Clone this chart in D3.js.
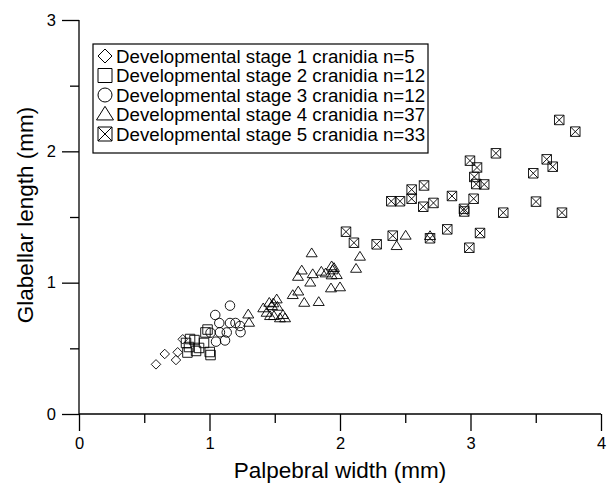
<!DOCTYPE html>
<html>
<head>
<meta charset="utf-8">
<script src="https://cdn.jsdelivr.net/npm/d3@7"></script>
<style>
  body { margin: 0; background: #fff; }
  svg { display: block; font-family: "Liberation Sans", Arial, sans-serif; }
</style>
</head>
<body>
<svg id="chart" width="608" height="486"></svg>
<script>
// values (palpebral width, glabellar length), mm
const stage1 = [[0.795,0.569],[0.657,0.457],[0.756,0.470],[0.743,0.411],[0.590,0.378]];
const stage2 = [[0.985,0.643],[0.969,0.621],[0.851,0.571],[0.885,0.563],[0.831,0.468],[0.897,0.480],
  [0.958,0.541],[1.002,0.472],[1.008,0.449],[0.843,0.510],[0.920,0.503],[0.820,0.541]];
const stage3 = [[1.157,0.825],[1.044,0.754],[1.075,0.693],[1.157,0.693],[1.199,0.693],[1.234,0.670],
  [1.008,0.619],[1.080,0.622],[1.132,0.621],[1.238,0.623],[1.050,0.551],[1.119,0.560]];
const stage4 = [[1.297,0.758],[1.303,0.695],[1.412,0.805],[1.438,0.771],[1.458,0.847],[1.489,0.843],
  [1.515,0.873],[1.520,0.817],[1.464,0.746],[1.494,0.746],[1.540,0.729],[1.579,0.729],[1.638,0.906],
  [1.680,0.933],[1.726,0.847],[1.837,0.853],[1.678,1.045],[1.707,1.093],[1.783,1.224],[1.791,1.065],
  [1.772,1.001],[1.857,1.084],[1.890,1.071],[1.936,1.125],[1.943,1.094],[1.936,1.056],[1.975,1.058],
  [1.931,0.957],[2.000,0.965],[2.123,1.106],[2.153,1.198],[2.434,1.279],[2.503,1.358],[2.690,1.355],
  [1.479,0.822],[1.563,0.754],[1.954,1.112]];
const stage5 = [[2.996,1.929],[3.050,1.877],[3.029,1.805],[3.044,1.751],[3.105,1.748],[2.644,1.740],
  [2.549,1.709],[2.549,1.639],[2.393,1.620],[2.460,1.620],[2.638,1.578],[2.716,1.607],[2.858,1.660],
  [3.024,1.639],[2.950,1.562],[2.952,1.542],[2.822,1.406],[2.404,1.358],[2.281,1.292],[2.690,1.338],
  [3.073,1.378],[2.991,1.266],[2.046,1.388],[2.107,1.304],[3.680,2.239],[3.803,2.150],[3.195,1.985],
  [3.584,1.939],[3.630,1.883],[3.481,1.833],[3.502,1.617],[3.251,1.533],[3.701,1.533]];

const legendLabels = [
  "Developmental stage 1 cranidia n=5",
  "Developmental stage 2 cranidia n=12",
  "Developmental stage 3 cranidia n=12",
  "Developmental stage 4 cranidia n=37",
  "Developmental stage 5 cranidia n=33"
];
const xTicks = [0, 1, 2, 3, 4];
const yTicks = [0, 1, 2, 3];

const svg = d3.select("#chart");
const x = d3.scaleLinear().domain([0, 4]).range([79, 601]);
const y = d3.scaleLinear().domain([0, 3]).range([414, 20]);

// marker shapes, s = full width
function shapePath(kind, s) {
  const h = s / 2;
  if (kind === "diamond") return `M0,${-h}L${h},0L0,${h}L${-h},0Z`;
  if (kind === "square") return `M${-h},${-h}H${h}V${h}H${-h}Z`;
  if (kind === "circle") return `M${h},0A${h},${h} 0 1,1 ${-h},0A${h},${h} 0 1,1 ${h},0Z`;
  if (kind === "triangle") {
    const th = s * 0.8;
    return `M0,${-th * 0.6}L${h},${th * 0.4}L${-h},${th * 0.4}Z`;
  }
  if (kind === "xsquare") return `M${-h},${-h}H${h}V${h}H${-h}Z M${-h},${-h}L${h},${h} M${h},${-h}L${-h},${h}`;
}

const series = [
  { data: stage1, kind: "diamond", size: 9.5 },
  { data: stage2, kind: "square", size: 9.5 },
  { data: stage3, kind: "circle", size: 9.5 },
  { data: stage4, kind: "triangle", size: 11 },
  { data: stage5, kind: "xsquare", size: 9.5 }
];

const gPts = svg.append("g");
series.forEach(s => {
  gPts.selectAll(null)
    .data(s.data)
    .enter().append("path")
    .attr("transform", d => `translate(${x(d[0])},${y(d[1])})`)
    .attr("d", shapePath(s.kind, s.size))
    .attr("fill", "none")
    .attr("stroke", "#000")
    .attr("stroke-width", 0.9);
});

// axes
const xAxis = d3.axisBottom(x).tickValues(xTicks).tickSize(17).tickPadding(6).tickFormat(d3.format("d"));
const xMinor = d3.axisBottom(x).tickValues([0.5, 1.5, 2.5, 3.5]).tickSize(9).tickFormat("");
const yAxis = d3.axisLeft(y).tickValues(yTicks).tickSize(17).tickPadding(6).tickFormat(d3.format("d"));
const yMinor = d3.axisLeft(y).tickValues([0.5, 1.5, 2.5]).tickSize(9).tickFormat("");

function styleAxis(g) {
  g.select(".domain").remove();
  g.selectAll("line").attr("stroke", "#000").attr("stroke-width", 1.3);
  g.selectAll("text").attr("font-size", 16.5).attr("fill", "#000").attr("font-family", "Liberation Sans, Arial, sans-serif");
}

svg.append("g").attr("transform", "translate(0,414)").call(xAxis).call(styleAxis);
svg.append("g").attr("transform", "translate(0,414)").call(xMinor).call(styleAxis);
svg.append("g").attr("transform", "translate(79,0)").call(yAxis).call(styleAxis);
svg.append("g").attr("transform", "translate(79,0)").call(yMinor).call(styleAxis);

svg.append("line").attr("x1", 79).attr("x2", 601).attr("y1", 414).attr("y2", 414)
  .attr("stroke", "#000").attr("stroke-width", 1.3);
svg.append("line").attr("x1", 79).attr("x2", 79).attr("y1", 20).attr("y2", 414)
  .attr("stroke", "#000").attr("stroke-width", 1.3);

// titles
svg.append("text")
  .attr("x", 340).attr("y", 478)
  .attr("text-anchor", "middle")
  .attr("font-size", 22.5)
  .text("Palpebral width (mm)");

svg.append("text")
  .attr("transform", "translate(33,215) rotate(-90)")
  .attr("text-anchor", "middle")
  .attr("font-size", 22.5)
  .text("Glabellar length (mm)");

// legend
const leg = svg.append("g");
leg.append("rect")
  .attr("x", 93).attr("y", 44).attr("width", 335).attr("height", 109)
  .attr("fill", "#fff").attr("stroke", "#000").attr("stroke-width", 1.2);

const rows = leg.selectAll("g.row")
  .data(series)
  .enter().append("g")
  .attr("class", "row")
  .attr("transform", (d, i) => `translate(105,${56 + i * 19.5})`);

rows.append("path")
  .attr("d", d => shapePath(d.kind, d.kind === "triangle" ? 17 : 14))
  .attr("fill", "none")
  .attr("stroke", "#000")
  .attr("stroke-width", 1);

rows.append("text")
  .attr("x", 11).attr("y", 6.5)
  .attr("font-size", 18.7)
  .text((d, i) => legendLabels[i]);
</script>
</body>
</html>
